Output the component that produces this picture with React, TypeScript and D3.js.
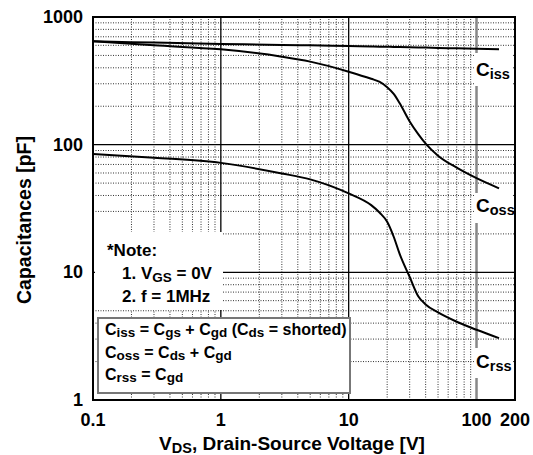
import { useEffect, useRef } from "react";
import * as d3 from "d3";

// drain-source voltage (V) where the curves were read
const vds = [0.1, 0.3, 1, 3, 5, 10, 15, 17.5, 20, 22.5, 25, 30, 35, 40, 50, 70, 100, 150];
// capacitances in pF
const ciss = [645, 630, 615, 604, 600, 592, 588, 586, 585, 583, 582, 580, 578, 576, 573, 568, 563, 558];
const coss = [645, 600, 558, 489, 447, 373, 328, 310, 282, 250, 212, 152, 121, 102, 82, 66, 54.6, 45.5];
const crss = [84.5, 79, 72, 59.5, 53.5, 41.5, 33.6, 29.3, 24.9, 19, 14, 9.2, 6.5, 5.6, 4.85, 4.1, 3.55, 3.05];

const xTicks = [0.1, 1, 10, 100, 200];
const xTickLabels = ["0.1", "1", "10", "100", "200"];
const yTicks = [1, 10, 100, 1000];
const yTickLabels = ["1", "10", "100", "1000"];

const FONT = "'Liberation Sans', Arial, sans-serif";

// text with subscripts: parts are [text, isSub]
const richText = (g, x, y, parts, size, subSize, shift) => {
  const t = g.append("text")
    .attr("x", x)
    .attr("y", y)
    .attr("font-size", size)
    .attr("font-weight", "bold")
    .attr("font-family", FONT)
    .attr("fill", "#000");
  let down = false;
  parts.forEach(([s, sub]) => {
    const span = t.append("tspan").text(s);
    if (sub && !down) { span.attr("dy", shift); down = true; }
    else if (!sub && down) { span.attr("dy", -shift); down = false; }
    span.attr("font-size", sub ? subSize : size);
  });
  return t;
};

const CapChart = () => {
  const svgRef = useRef(null);

  useEffect(() => {
    const svg = d3.select(svgRef.current);
    svg.selectAll("*").remove();

    const width = 533;
    const height = 455;
    const margin = { top: 17, right: 18, bottom: 55, left: 93 };

    const x = d3.scaleLog().domain([0.1, 200]).range([margin.left, width - margin.right]);
    const y = d3.scaleLog().domain([1, 1000]).range([height - margin.bottom, margin.top]);

    const isMajor = v => Math.abs(Math.log10(v) - Math.round(Math.log10(v))) < 1e-9;

    const grid = svg.append("g");
    // minor dotted grid
    x.ticks().filter(v => !isMajor(v) && v < 200).forEach(v => {
      grid.append("line")
        .attr("x1", x(v)).attr("x2", x(v))
        .attr("y1", y(1)).attr("y2", y(1000))
        .attr("stroke", "#333").attr("stroke-width", 1)
        .attr("stroke-dasharray", "1,1.5");
    });
    y.ticks().filter(v => !isMajor(v)).forEach(v => {
      grid.append("line")
        .attr("x1", x(0.1)).attr("x2", x(200))
        .attr("y1", y(v)).attr("y2", y(v))
        .attr("stroke", "#333").attr("stroke-width", 1)
        .attr("stroke-dasharray", "1,1.5");
    });
    // major solid grid
    [1, 10].forEach(v => {
      grid.append("line")
        .attr("x1", x(v)).attr("x2", x(v))
        .attr("y1", y(1)).attr("y2", y(1000))
        .attr("stroke", "#000").attr("stroke-width", 1.3);
    });
    grid.append("line")
      .attr("x1", x(100)).attr("x2", x(100))
      .attr("y1", y(1)).attr("y2", y(1000))
      .attr("stroke", "#888").attr("stroke-width", 2.5);
    [10, 100].forEach(v => {
      grid.append("line")
        .attr("x1", x(0.1)).attr("x2", x(200))
        .attr("y1", y(v)).attr("y2", y(v))
        .attr("stroke", "#000").attr("stroke-width", 1.3);
    });

    // curves
    const line = d3.line()
      .x(d => x(d[0]))
      .y(d => y(d[1]))
      .curve(d3.curveMonotoneX);
    [ciss, coss, crss].forEach(s => {
      svg.append("path")
        .datum(vds.map((v, i) => [v, s[i]]))
        .attr("d", line)
        .attr("fill", "none")
        .attr("stroke", "#000")
        .attr("stroke-width", 2);
    });

    // curve labels with white backing
    const curveLabels = [
      { sub: "iss", base: 76, top: 53, bot: 86 },
      { sub: "oss", base: 212, top: 193, bot: 223 },
      { sub: "rss", base: 368, top: 348, bot: 378 }
    ];
    curveLabels.forEach(l => {
      svg.append("rect")
        .attr("x", 474).attr("y", l.top)
        .attr("width", 39).attr("height", l.bot - l.top)
        .attr("fill", "#fff");
      richText(svg, 476, l.base, [["C", false], [l.sub, true]], 19, 14.5, 3);
    });

    // note box
    svg.append("rect")
      .attr("x", 95).attr("y", 232)
      .attr("width", 128).attr("height", 78)
      .attr("fill", "#fff");
    richText(svg, 107, 256, [["*Note:", false]], 17, 13, 3);
    richText(svg, 122, 279, [["1. V", false], ["GS", true], [" = 0V", false]], 17, 13.5, 3);
    richText(svg, 122, 302, [["2. f = 1MHz", false]], 17, 13, 3);

    // definitions box
    svg.append("rect")
      .attr("x", 98).attr("y", 318)
      .attr("width", 252).attr("height", 75)
      .attr("fill", "#fff")
      .attr("stroke", "#777")
      .attr("stroke-width", 2);
    richText(svg, 105, 335, [["C", false], ["iss", true], [" = C", false], ["gs", true], [" + C", false], ["gd", true], [" (C", false], ["ds", true], [" = shorted)", false]], 16, 13.5, 2);
    richText(svg, 105, 358, [["C", false], ["oss", true], [" = C", false], ["ds", true], [" + C", false], ["gd", true]], 16, 13.5, 2);
    richText(svg, 105, 380, [["C", false], ["rss", true], [" = C", false], ["gd", true]], 16, 13.5, 2);

    // frame
    svg.append("rect")
      .attr("x", x(0.1)).attr("y", y(1000))
      .attr("width", x(200) - x(0.1)).attr("height", y(1) - y(1000))
      .attr("fill", "none")
      .attr("stroke", "#000")
      .attr("stroke-width", 2);

    // tick labels
    svg.append("g").selectAll("text")
      .data(xTicks)
      .join("text")
      .attr("x", d => x(d))
      .attr("y", 426)
      .attr("text-anchor", "middle")
      .attr("font-size", 18)
      .attr("font-weight", "bold")
      .attr("font-family", FONT)
      .text((d, i) => xTickLabels[i]);

    svg.append("g").selectAll("text")
      .data(yTicks)
      .join("text")
      .attr("x", 83)
      .attr("y", d => y(d) + 6)
      .attr("text-anchor", "end")
      .attr("font-size", 18)
      .attr("font-weight", "bold")
      .attr("font-family", FONT)
      .text((d, i) => yTickLabels[i]);

    // axis titles
    const xt = richText(svg, 292, 450, [["V", false], ["DS", true], [", Drain-Source Voltage [V]", false]], 19, 14.5, 3);
    xt.attr("text-anchor", "middle");

    svg.append("text")
      .attr("transform", "translate(31,220) rotate(-90)")
      .attr("text-anchor", "middle")
      .attr("font-size", 19.5)
      .attr("font-weight", "bold")
      .attr("font-family", FONT)
      .text("Capacitances [pF]");
  }, []);

  return <svg ref={svgRef} width={533} height={455} style={{ position: "absolute", left: 0, top: 0, background: "#fff" }}></svg>;
};

export default function App() {
  return <CapChart />;
}
